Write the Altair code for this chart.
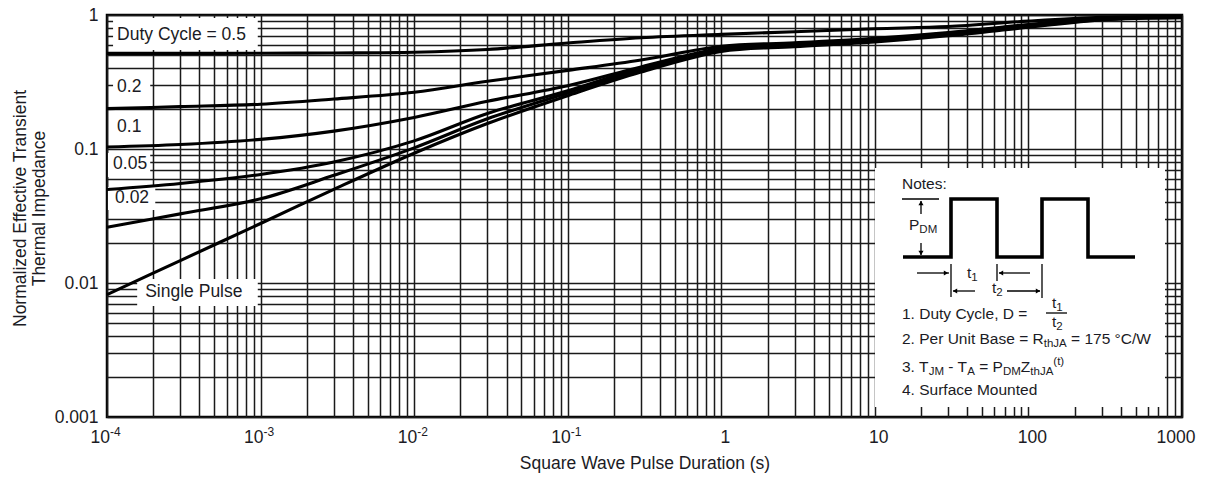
import altair as alt
import pandas as pd

# ---------------------------------------------------------------- data
# pulse durations (s) at which the curves are tabulated
t_pulse = [1e-4, 3e-4, 1e-3, 3e-3, 1e-2, 3e-2, 1e-1, 3e-1, 1, 3, 10, 30, 100, 300, 1000]

# normalized effective transient thermal impedance, one list per duty cycle
z_d050 = [0.517, 0.517, 0.518, 0.521, 0.527, 0.553, 0.618, 0.676, 0.717, 0.75, 0.79, 0.82, 0.90, 0.96, 0.98]
z_d020 = [0.200, 0.207, 0.216, 0.236, 0.265, 0.320, 0.386, 0.461, 0.585, 0.62, 0.67, 0.74, 0.85, 0.94, 0.975]
z_d010 = [0.1035, 0.108, 0.118, 0.136, 0.172, 0.227, 0.297, 0.41, 0.565, 0.61, 0.66, 0.73, 0.84, 0.935, 0.97]
z_d005 = [0.0498, 0.0553, 0.0646, 0.080, 0.115, 0.184, 0.272, 0.403, 0.555, 0.60, 0.65, 0.72, 0.83, 0.93, 0.965]
z_d002 = [0.0261, 0.0328, 0.0425, 0.0636, 0.102, 0.168, 0.262, 0.39, 0.545, 0.59, 0.64, 0.71, 0.82, 0.925, 0.96]
z_single = [0.0082, 0.0147, 0.0278, 0.050, 0.093, 0.155, 0.25, 0.375, 0.535, 0.58, 0.63, 0.70, 0.81, 0.92, 0.955]

series_names = ["0.5", "0.2", "0.1", "0.05", "0.02", "single"]
series_values = [z_d050, z_d020, z_d010, z_d005, z_d002, z_single]

# curve captions
label_text = ["Duty Cycle = 0.5", "0.2", "0.1", "0.05", "0.02", "Single Pulse"]

# x-axis tick captions (mantissa and exponent)
x_label_values = [1e-4, 1e-3, 1e-2, 1e-1, 1, 10, 100, 1000]
x_label_main = ["10", "10", "10", "10", "1", "10", "100", "1000"]
x_label_exp = ["-4", "-3", "-2", "-1", "", "", "", ""]

# ---------------------------------------------------------------- layout
W, H = 1075, 402          # plot area
LEFT, TOP = 107, 15       # plot origin on the page
FONT = "Liberation Sans"
INK = "#1b1b24"
FS = 17.5                 # main text size
FS_NOTE = 15.5            # notes text size
FS_SUB = 11.5             # sub/superscripts

# caption anchors (left edge, vertical centre) in data units
label_t = [1.163e-4, 1.163e-4, 1.163e-4, 1.095e-4, 1.128e-4, 1.773e-4]
label_z = [0.709, 0.290, 0.146, 0.0773, 0.0431, 0.00857]
# white patches behind captions, data units
patch_t0 = [1.095e-4, 1.095e-4, 1.095e-4, 1.015e-4, 1.015e-4, 1.572e-4]
patch_t1 = [9.59e-4, 1.912e-4, 1.912e-4, 1.912e-4, 2.062e-4, 9.59e-4]
patch_z0 = [0.548, 0.232, 0.121, 0.0618, 0.0351, 0.00673]
patch_z1 = [0.950, 0.369, 0.179, 0.0933, 0.0520, 0.0107]

curve_rows = []
for name, zs in zip(series_names, series_values):
    for i, (t, z) in enumerate(zip(t_pulse, zs)):
        curve_rows.append({"series": name, "t": t, "z": z, "i": i})
curves = pd.DataFrame(curve_rows)

captions = pd.DataFrame({"text": label_text, "t": label_t, "z": label_z,
                         "t0": patch_t0, "t1": patch_t1, "z0": patch_z0, "z1": patch_z1})

x_grid = [float(f"{m}e{e}") for e in range(-4, 3) for m in range(1, 10)] + [1000.0]
y_grid = [float(f"{m}e{e}") for e in range(-3, 0) for m in range(1, 10)] + [1.0]

x_scale = alt.Scale(type="log", domain=[1e-4, 1000], nice=False)
y_scale = alt.Scale(type="log", domain=[0.001, 1], nice=False)

GRID = dict(grid=True, gridColor="#1a1a1a", gridWidth=1.5, gridOpacity=1,
            ticks=False, domain=False, labelFont=FONT, titleFont=FONT,
            labelColor=INK, titleColor=INK, labelFontSize=FS, titleFontSize=FS,
            titleFontWeight="normal", labelOverlap=False)

x_axis = alt.Axis(values=x_grid, labels=False, title="Square Wave Pulse Duration (s)",
                  titleY=46, titleBaseline="middle", **GRID)
y_axis = alt.Axis(values=y_grid, labelPadding=9,
                  labelExpr="abs(log(datum.value)/LN10 - round(log(datum.value)/LN10)) < 0.001"
                            " ? format(datum.value, '~g') : ''",
                  title=["Normalized Effective Transient", "Thermal Impedance"],
                  titleAngle=270, titleX=-87, titleY=193, titleAlign="center",
                  titleBaseline="middle", titleLineHeight=19, **GRID)


def xq(field):
    return alt.X(field, scale=x_scale, axis=x_axis)


def yq(field):
    return alt.Y(field, scale=y_scale, axis=y_axis)


patches = alt.Chart(captions).mark_rect(color="white").encode(
    x=xq("t0:Q"), x2="t1:Q", y=yq("z0:Q"), y2="z1:Q",
)

lines = alt.Chart(curves).mark_line(color="black", strokeWidth=3.1, interpolate="catmull-rom").encode(
    x=xq("t:Q"), y=yq("z:Q"), detail="series:N", order="i:Q",
)

caption_text = alt.Chart(captions).mark_text(
    align="left", baseline="middle", font=FONT, fontSize=FS, color=INK
).encode(x=xq("t:Q"), y=yq("z:Q"), text="text:N")

# x tick captions
xt = pd.DataFrame({"t": x_label_values, "main": x_label_main, "exp": x_label_exp})
xt_pow = xt[xt["exp"] != ""]
xt_plain = xt[(xt["exp"] == "") & (xt["t"] < 1000)]
xt_last = xt[xt["t"] == 1000]
tick_y = alt.value(H + 21)
xt_main_pow = alt.Chart(xt_pow).mark_text(
    align="right", baseline="middle", dx=3, font=FONT, fontSize=FS, color=INK
).encode(x=xq("t:Q"), y=tick_y, text="main:N")
xt_exp = alt.Chart(xt_pow).mark_text(
    align="left", baseline="middle", dx=3, dy=-6, font=FONT, fontSize=12, color=INK
).encode(x=xq("t:Q"), y=tick_y, text="exp:N")
xt_main_plain = alt.Chart(xt_plain).mark_text(
    align="center", baseline="middle", dx=4, font=FONT, fontSize=FS, color=INK
).encode(x=xq("t:Q"), y=tick_y, text="main:N")
xt_main_last = alt.Chart(xt_last).mark_text(
    align="center", baseline="middle", dx=-6, font=FONT, fontSize=FS, color=INK
).encode(x=xq("t:Q"), y=tick_y, text="main:N")

# ---------------------------------------------------------------- notes inset (page pixels)
ARIAL = {" ": 278, "(": 333, ")": 333, "-": 333, ".": 278, ",": 278, "/": 278, ":": 278,
         "=": 584, "°": 400, "A": 667, "B": 667, "C": 722, "D": 722, "E": 667, "J": 500,
         "M": 833, "N": 722, "P": 667, "R": 722, "S": 667, "T": 611, "U": 722, "W": 944,
         "Z": 611, "a": 556, "b": 556, "c": 500, "d": 556, "e": 556, "f": 278, "h": 556,
         "i": 222, "l": 222, "m": 833, "n": 556, "o": 556, "r": 333, "s": 500, "t": 278,
         "u": 556, "v": 500, "y": 500}


def advance(s, size):
    return sum(ARIAL.get(c, 556) for c in s) * size / 1000.0


def run(x0, y, parts, size=FS_NOTE):
    out, x = [], x0
    for text, kind in parts:
        fs = size if kind == "n" else FS_SUB
        dy = {"n": 0, "sub": 5, "sup": -5}[kind]
        lead = len(text) - len(text.lstrip())
        out.append({"x": x + advance(text[:lead], fs) - LEFT, "y": y + dy - TOP,
                    "text": text.strip(), "size": fs})
        x += advance(text, fs)
    return out


note_text = []
note_text += run(902, 184, [("Notes:", "n")])
note_text += run(909, 225, [("P", "n"), ("DM", "sub")])
note_text += run(967, 273, [("t", "n"), ("1", "sub")])
note_text += run(992, 288, [("t", "n"), ("2", "sub")])
note_text += run(902, 314, [("1. Duty Cycle, D =", "n")])
note_text += run(1052, 303, [("t", "n"), ("1", "sub")])
note_text += run(1052, 322, [("t", "n"), ("2", "sub")])
note_text += run(902, 339, [("2. Per Unit Base = R", "n"), ("thJA", "sub"), (" = 175 °C/W", "n")])
note_text += run(902, 367, [("3. T", "n"), ("JM", "sub"), (" - T", "n"), ("A", "sub"),
                            (" = P", "n"), ("DM", "sub"), ("Z", "n"), ("thJA", "sub"),
                            ("(t)", "sup")])
note_text += run(902, 390, [("4. Surface Mounted", "n")])
note_text = pd.DataFrame(note_text)

wave_pts = [(903, 257), (951, 257), (951, 199), (997, 199), (997, 257), (1042, 257),
            (1042, 199), (1088, 199), (1088, 257), (1135, 257)]
wave = pd.DataFrame([{"x": x - LEFT, "y": y - TOP, "i": i} for i, (x, y) in enumerate(wave_pts)])

thin_segs = [((902, 199), (939, 199)), ((921, 201), (921, 214)), ((921, 243), (921, 255)),
             ((917, 273), (949, 273)), ((951, 264), (951, 297)), ((999, 273), (1030, 273)),
             ((997, 264), (997, 281)), ((953, 291), (975, 291)), ((1007, 291), (1040, 291)),
             ((1042, 264), (1042, 298)), ((1046, 313), (1067, 313))]
segs = pd.DataFrame([{"x": a[0] - LEFT, "y": a[1] - TOP, "x2": b[0] - LEFT, "y2": b[1] - TOP}
                     for a, b in thin_segs])

heads = pd.DataFrame([
    {"x": 921 - LEFT, "y": 203 - TOP, "shape": "triangle-up"},
    {"x": 921 - LEFT, "y": 253 - TOP, "shape": "triangle-down"},
    {"x": 946 - LEFT, "y": 273 - TOP, "shape": "triangle-right"},
    {"x": 1001 - LEFT, "y": 273 - TOP, "shape": "triangle-left"},
    {"x": 955 - LEFT, "y": 291 - TOP, "shape": "triangle-left"},
    {"x": 1038 - LEFT, "y": 291 - TOP, "shape": "triangle-right"},
])

px = lambda f: alt.X(f, scale=None, axis=None)
py = lambda f: alt.Y(f, scale=None, axis=None)

notes_box = alt.Chart(pd.DataFrame({"k": [0]})).mark_rect(color="white").encode(
    x=alt.value(875 - LEFT), x2=alt.value(1165 - LEFT),
    y=alt.value(168 - TOP), y2=alt.value(407 - TOP),
)
notes_wave = alt.Chart(wave).mark_line(color="black", strokeWidth=3.6, strokeJoin="miter").encode(
    x=px("x:Q"), y=py("y:Q"), order="i:Q")
notes_segs = alt.Chart(segs).mark_rule(color="black", strokeWidth=1.3).encode(
    x=px("x:Q"), y=py("y:Q"), x2="x2:Q", y2="y2:Q")
notes_heads = alt.Chart(heads).mark_point(filled=True, color="black", size=26, opacity=1).encode(
    x=px("x:Q"), y=py("y:Q"), shape=alt.Shape("shape:N", scale=None, legend=None))
notes_words = alt.Chart(note_text).mark_text(
    align="left", baseline="middle", font=FONT, color=INK
).encode(x=px("x:Q"), y=py("y:Q"), text="text:N",
         size=alt.Size("size:Q", scale=None, legend=None))

chart = alt.layer(
    patches, lines, caption_text,
    notes_box, notes_segs, notes_wave, notes_heads, notes_words,
    xt_main_pow, xt_exp, xt_main_plain, xt_main_last,
).properties(
    width=W, height=H,
    autosize=alt.AutoSizeParams(type="none"),
    padding={"left": LEFT, "top": TOP, "right": 1206 - LEFT - W, "bottom": 479 - TOP - H},
    background="white",
).configure_view(stroke="black", strokeWidth=2.5)

chart.save("out.html", embed_options={"renderer": "svg", "actions": False})
